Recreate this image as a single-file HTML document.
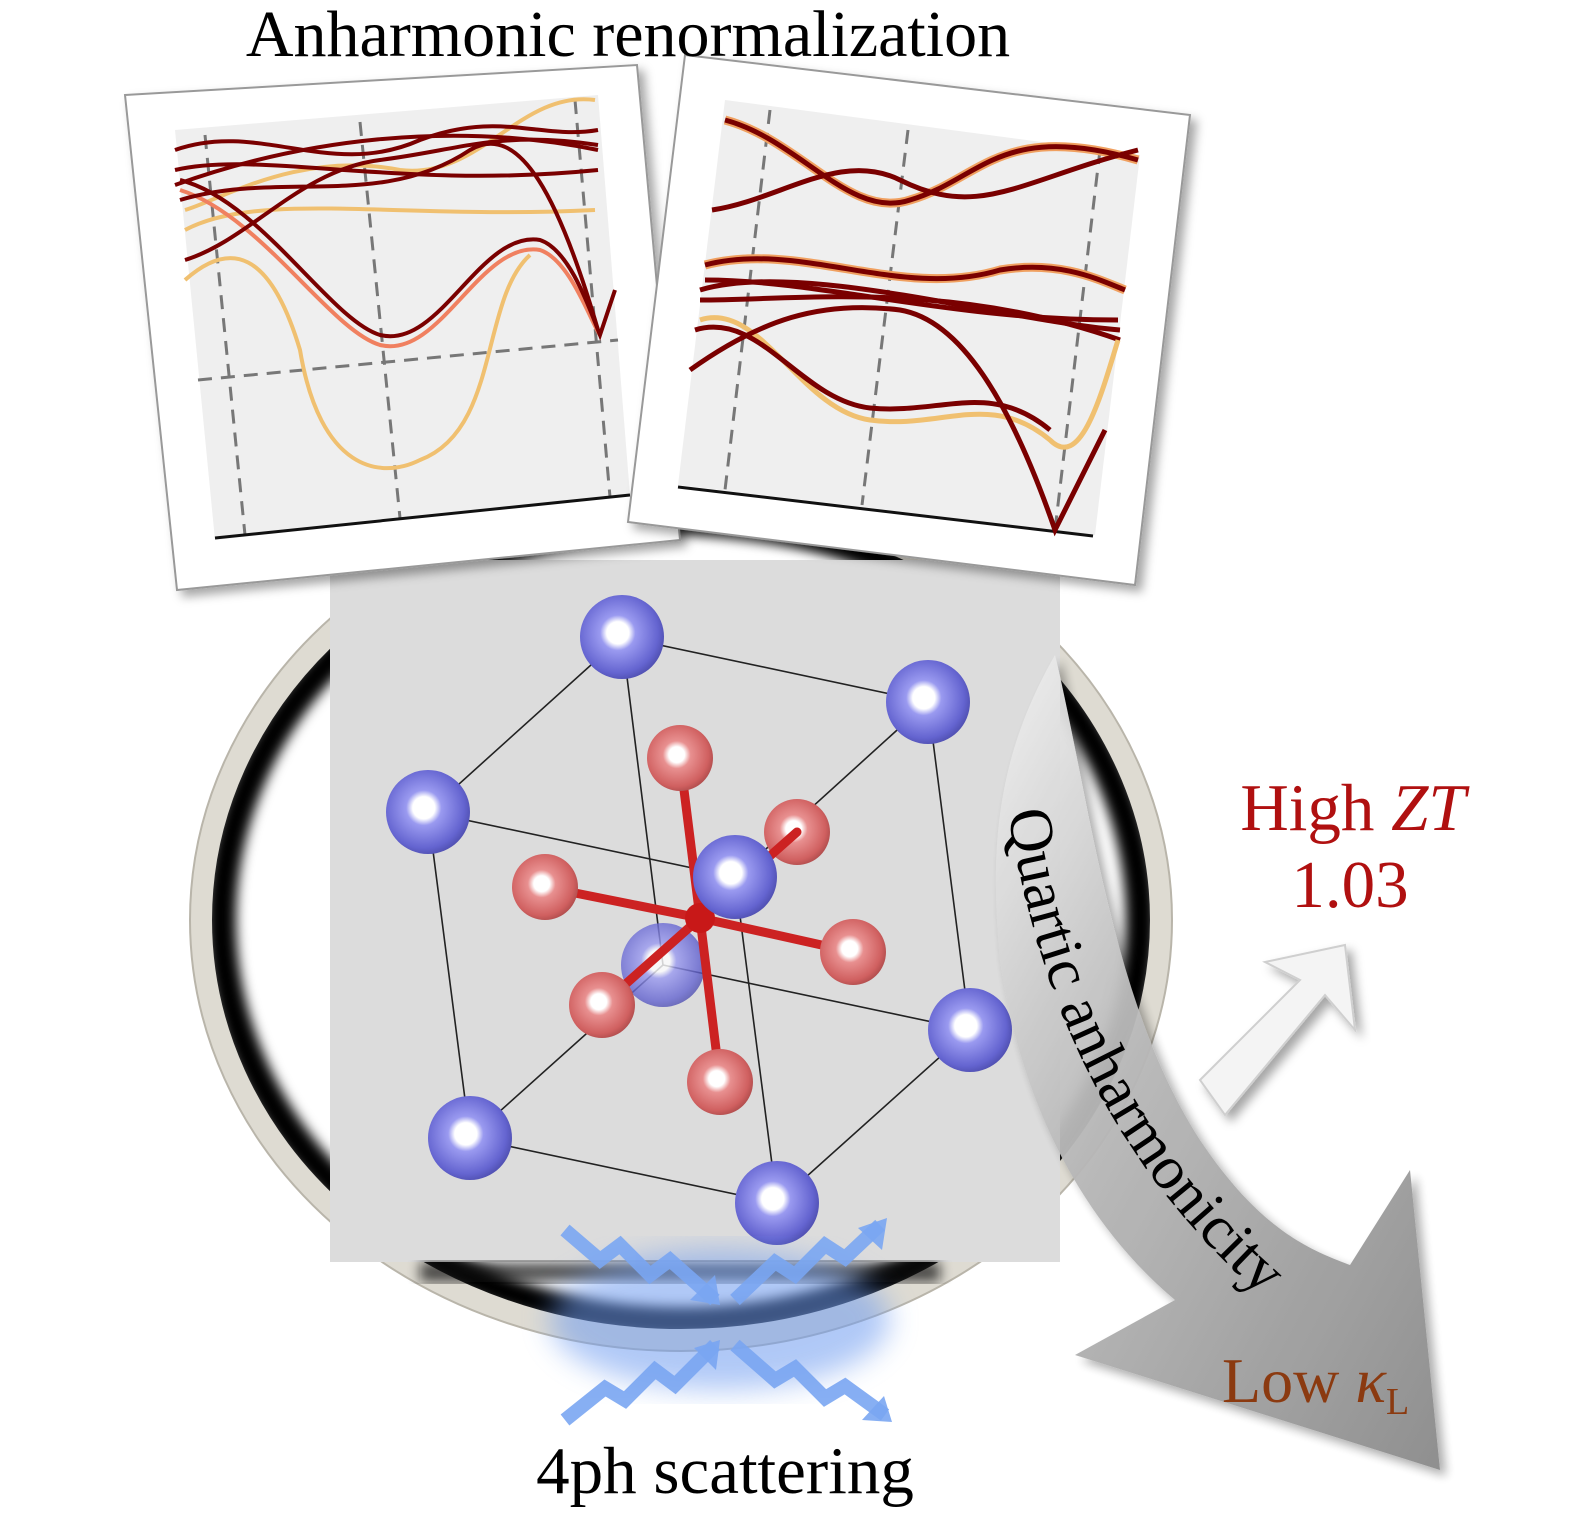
<!DOCTYPE html>
<html><head><meta charset="utf-8"><style>
html,body{margin:0;padding:0;background:#fff}
svg{display:block}
text{font-family:"Liberation Serif",serif}
</style></head><body>
<svg width="1583" height="1521" viewBox="0 0 1583 1521" xmlns="http://www.w3.org/2000/svg">
<defs>
<radialGradient id="blue" cx="0.45" cy="0.45" r="0.6">
<stop offset="0" stop-color="#ffffff"/><stop offset="0.22" stop-color="#ffffff"/><stop offset="0.35" stop-color="#9a9af0"/><stop offset="0.8" stop-color="#6464d0"/><stop offset="1" stop-color="#4a4aa8"/></radialGradient>
<radialGradient id="red" cx="0.45" cy="0.45" r="0.6">
<stop offset="0" stop-color="#ffffff"/><stop offset="0.2" stop-color="#ffffff"/><stop offset="0.35" stop-color="#e89090"/><stop offset="0.8" stop-color="#d06060"/><stop offset="1" stop-color="#a84848"/></radialGradient>
<linearGradient id="arr" x1="0" y1="0" x2="1" y2="1">
<stop offset="0" stop-color="#f2f2f2"/><stop offset="0.4" stop-color="#b8b8b8"/><stop offset="1" stop-color="#8a8a8a"/></linearGradient>
<filter id="blur6"><feGaussianBlur stdDeviation="6"/></filter>
<filter id="blur14"><feGaussianBlur stdDeviation="14"/></filter>
<filter id="sh"><feDropShadow dx="6" dy="6" stdDeviation="5" flood-opacity="0.35"/></filter>
</defs>

<!-- circle -->
<ellipse cx="681" cy="920" rx="490" ry="430" fill="#fff"/>
<ellipse cx="681" cy="920" rx="460" ry="402" fill="none" stroke="#000" stroke-width="30" filter="url(#blur6)"/>
<ellipse cx="681" cy="920" rx="480" ry="420" fill="none" stroke="#dedbd2" stroke-width="22"/>
<ellipse cx="681" cy="920" rx="491" ry="431" fill="none" stroke="#b9b5aa" stroke-width="2"/>
<rect x="330" y="560" width="730" height="702" fill="#dcdcdc"/>
<rect x="420" y="1262" width="520" height="20" fill="#111" filter="url(#blur6)" opacity="0.7"/>

<!-- cube lines -->
<g stroke="#222" stroke-width="1.6" fill="none">
<path d="M622 637 L928 702 L735 877 L428 812 Z"/>
<path d="M663 965 L970 1030 L777 1203 L470 1138 Z"/>
<path d="M622 637 L663 965 M928 702 L970 1030 M428 812 L470 1138 M735 877 L777 1203"/>
</g>
<circle cx="663" cy="965" r="42" fill="url(#blue)" opacity="0.8"/>
<circle cx="797" cy="832" r="33" fill="url(#red)"/>
<g stroke="#cc2222" stroke-width="9" stroke-linecap="round">
<line x1="700" y1="918" x2="680" y2="758"/><line x1="700" y1="918" x2="797" y2="832"/>
<line x1="700" y1="918" x2="545" y2="887"/><line x1="700" y1="918" x2="853" y2="952"/>
<line x1="700" y1="918" x2="602" y2="1005"/><line x1="700" y1="918" x2="720" y2="1082"/>
</g>
<circle cx="700" cy="918" r="15" fill="#c81818"/>
<g>
<circle cx="680" cy="758" r="33" fill="url(#red)"/>
<circle cx="545" cy="887" r="33" fill="url(#red)"/>
<circle cx="853" cy="952" r="33" fill="url(#red)"/>
<circle cx="602" cy="1005" r="33" fill="url(#red)"/>
<circle cx="720" cy="1082" r="33" fill="url(#red)"/>
<circle cx="622" cy="637" r="42" fill="url(#blue)"/>
<circle cx="928" cy="702" r="42" fill="url(#blue)"/>
<circle cx="428" cy="812" r="42" fill="url(#blue)"/>
<circle cx="735" cy="877" r="42" fill="url(#blue)"/>
<circle cx="970" cy="1030" r="42" fill="url(#blue)"/>
<circle cx="470" cy="1138" r="42" fill="url(#blue)"/>
<circle cx="777" cy="1203" r="42" fill="url(#blue)"/>
</g>

<!-- gray curved arrow -->
<path d="M1055 655 C1090 800 1110 1000 1200 1140 C1260 1230 1310 1250 1350 1265 L1410 1170 L1440 1470 L1075 1355 L1175 1300 C1080 1220 1020 1100 1000 960 C990 850 995 760 1055 655 Z" fill="url(#arr)" filter="url(#sh)" opacity="0.95"/>
<path id="tp" d="M1008 812 C1040 1010 1120 1200 1330 1350" fill="none"/>
<text font-size="62" fill="#000"><textPath href="#tp">Quartic anharmonicity</textPath></text>

<!-- white arrow -->
<path d="M1200 1080 L1300 980 L1265 962 L1345 945 L1355 1030 L1325 995 L1225 1115 Z" fill="#f4f4f4" stroke="#cfcfcf" stroke-width="2" filter="url(#sh)"/>

<!-- blue zigzag -->
<ellipse cx="720" cy="1320" rx="170" ry="70" fill="#6f9cf0" opacity="0.55" filter="url(#blur14)"/>
<g fill="none" stroke="#7aa6f2" stroke-width="14" stroke-linejoin="miter" opacity="0.9">
<path d="M565 1230 L600 1260 L620 1245 L650 1275 L670 1260 L715 1300"/>
<path d="M735 1300 L775 1262 L795 1275 L825 1245 L845 1258 L880 1225"/>
<path d="M715 1345 L675 1385 L655 1370 L625 1400 L605 1388 L565 1420"/>
<path d="M735 1345 L775 1380 L795 1368 L825 1398 L845 1386 L885 1415"/>
</g>
<g fill="#7aa6f2" opacity="0.9">
<path d="M720 1305 L690 1300 L715 1275 Z"/><path d="M887 1218 L882 1250 L858 1228 Z"/>
<path d="M720 1340 L716 1370 L694 1348 Z"/><path d="M892 1422 L862 1420 L884 1396 Z"/>
</g>

<!-- left panel -->
<g filter="url(#sh)">
<polygon points="125,95 637,65 680,540 177,590" fill="#fff" stroke="#999" stroke-width="2"/>
</g>
<polygon points="175,130 598,95 630,495 215,540" fill="#efefef"/>
<g stroke="#777" stroke-width="3" stroke-dasharray="14,9" fill="none">
<line x1="205" y1="135" x2="245" y2="535"/><line x1="360" y1="122" x2="400" y2="518"/><line x1="575" y1="100" x2="610" y2="497"/>
<line x1="198" y1="380" x2="618" y2="340"/>
</g>
<line x1="215" y1="538" x2="630" y2="495" stroke="#111" stroke-width="3"/>
<g fill="none" stroke-width="4">
<path d="M185 210 C220 200 300 150 400 170 C480 180 520 90 595 100" stroke="#f0c070"/>
<path d="M185 280 C230 240 270 250 300 350 C320 470 380 480 420 460 C500 430 480 300 530 255" stroke="#f0c070"/>
<path d="M185 230 C260 190 400 220 595 210" stroke="#f0c070"/>
<path d="M180 190 C260 215 330 330 380 345 C440 360 480 240 540 250 C570 260 590 320 600 335" stroke="#f08060"/>
<path d="M180 180 C260 200 330 320 380 335 C440 350 480 230 540 240 C570 250 590 310 600 335 L615 290" stroke="#7a0000"/>
<path d="M175 150 C260 120 330 180 420 140 C500 110 540 140 598 130" stroke="#7a0000"/>
<path d="M175 170 C260 150 400 190 598 170" stroke="#7a0000"/>
<path d="M175 185 C300 140 450 120 598 150" stroke="#7a0000"/>
<path d="M185 260 C250 240 300 170 380 160 C460 150 500 130 598 145" stroke="#7a0000"/>
<path d="M180 200 C280 170 380 210 470 150 C520 120 560 200 598 330" stroke="#7a0000"/>
</g>

<!-- right panel -->
<g filter="url(#sh)">
<polygon points="685,55 1190,115 1135,585 628,522" fill="#fff" stroke="#999" stroke-width="2"/>
</g>
<polygon points="725,100 1140,155 1095,535 678,485" fill="#efefef"/>
<g stroke="#777" stroke-width="3" stroke-dasharray="14,9" fill="none">
<line x1="770" y1="110" x2="725" y2="490"/><line x1="908" y1="130" x2="862" y2="505"/><line x1="1100" y1="150" x2="1055" y2="530"/>
</g>
<line x1="678" y1="487" x2="1093" y2="536" stroke="#111" stroke-width="3"/>
<g fill="none" stroke-width="5">
<path d="M725 120 C800 140 850 220 910 200 C980 180 1000 120 1138 160" stroke="#f0a060" stroke-width="9"/>
<path d="M725 120 C800 140 850 220 910 200 C980 180 1000 120 1138 160" stroke="#7a0000"/>
<path d="M712 210 C780 200 840 150 900 180 C980 220 1020 180 1138 150" stroke="#7a0000"/>
<path d="M705 265 C800 240 900 300 1000 270 C1060 260 1100 280 1125 290" stroke="#f0a060" stroke-width="9"/>
<path d="M705 265 C800 240 900 300 1000 270 C1060 260 1100 280 1125 290" stroke="#7a0000"/>
<path d="M700 290 C800 260 1000 320 1120 330" stroke="#7a0000"/>
<path d="M700 300 C800 300 950 280 1120 340" stroke="#7a0000"/>
<path d="M700 320 C760 300 800 410 870 420 C940 430 990 390 1050 440 C1080 470 1100 400 1118 340" stroke="#f0c070"/>
<path d="M695 330 C760 310 800 400 870 408 C940 415 990 380 1050 430" stroke="#7a0000"/>
<path d="M690 370 C760 320 820 300 900 310 C960 320 1010 400 1055 530 L1105 430" stroke="#7a0000"/>
<path d="M705 280 C820 280 950 320 1118 320" stroke="#7a0000"/>
</g>

<!-- text -->
<text x="628" y="56" font-size="66" text-anchor="middle" fill="#000">Anharmonic renormalization</text>
<text x="1353" y="830" font-size="67" text-anchor="middle" fill="#b01010">High <tspan font-style="italic">ZT</tspan></text>
<text x="1350" y="907" font-size="67" text-anchor="middle" fill="#b01010">1.03</text>
<text x="1222" y="1402" font-size="64" fill="#8b3a10">Low <tspan font-style="italic">κ</tspan><tspan font-size="38" dy="12">L</tspan></text>
<text x="725" y="1493" font-size="67" text-anchor="middle" fill="#000">4ph scattering</text>
</svg>
</body></html>
